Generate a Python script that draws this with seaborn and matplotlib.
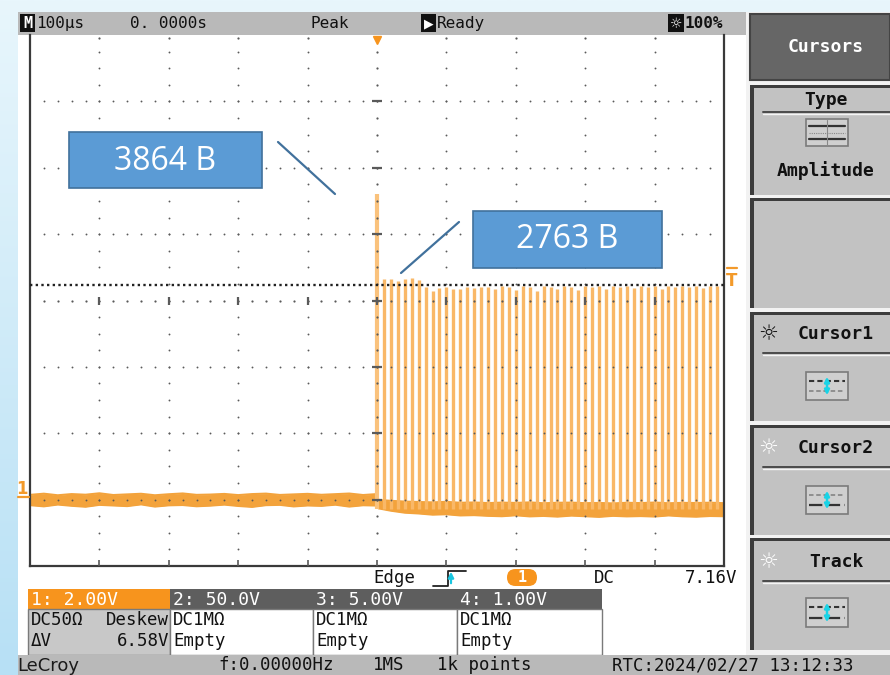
import numpy as np
import pandas as pd
import matplotlib
matplotlib.use("Agg")
import matplotlib.pyplot as plt
from matplotlib.patches import Rectangle, FancyBboxPatch
from matplotlib.colors import LinearSegmentedColormap
import seaborn as sns

sns.set_theme(style="white")
plt.rcParams["font.family"] = ["DejaVu Sans Mono", "DejaVu Sans"]

# ---- acquisition settings -------------------------------------------------
TIME_PER_DIV_US = 100          # horizontal scale
VOLTS_PER_DIV_SCOPE = 2.00     # channel 1 scale at the scope input
DELTA_V_SCOPE = 6.58           # cursor delta read by the scope
PULSE_LEVEL_V = 2763           # pulse level after the divider
PEAK_V = 3864                  # first (overshoot) pulse
PROBE_RATIO = PULSE_LEVEL_V / DELTA_V_SCOPE
VDIV = VOLTS_PER_DIV_SCOPE * PROBE_RATIO   # volts per screen division
CURSOR1_V = 2715

# ---- pulse train (time in µs, peak in V) ----------------------------------
pulse_t_us = [0, 10, 20, 30, 40, 50, 60, 70, 80, 90,
              100, 110, 120, 130, 140, 150, 160, 170, 180, 190,
              200, 210, 220, 230, 240, 250, 260, 270, 280, 290,
              300, 310, 320, 330, 340, 350, 360, 370, 380, 390,
              400, 410, 420, 430, 440, 450, 460, 470, 480, 490]
pulse_peak_v = [3864, 2790, 2790, 2770, 2790, 2800, 2780, 2690, 2640, 2680,
                2690, 2670, 2670, 2690, 2680, 2690, 2690, 2670, 2700, 2690,
                2650, 2700, 2690, 2640, 2700, 2690, 2660, 2700, 2690, 2650,
                2700, 2690, 2700, 2660, 2700, 2690, 2700, 2680, 2700, 2690,
                2700, 2660, 2700, 2690, 2700, 2690, 2700, 2680, 2700, 2700]

# ---- baseline noise envelope ----------------------------------------------
env_t_us = [-500, -480, -460, -440, -420, -400, -380, -360, -340, -320,
            -300, -280, -260, -240, -220, -200, -180, -160, -140, -120,
            -100, -80, -60, -40, -20, 0,
            2, 20, 40, 60, 80, 100, 120, 140, 160, 180,
            200, 220, 240, 260, 280, 300, 320, 340, 360, 380,
            400, 420, 440, 460, 480, 500]
env_upper_v = [60, 75, 55, 70, 62, 80, 58, 66, 74, 55,
               68, 78, 60, 64, 72, 57, 70, 76, 59, 66,
               73, 61, 69, 77, 58, 70,
               -5, -15, -25, -30, -35, -28, -40, -36, -44, -38,
               -42, -35, -46, -40, -38, -45, -42, -48, -40, -44,
               -37, -46, -41, -43, -39, -45]
env_lower_v = [-70, -85, -62, -78, -90, -66, -74, -82, -60, -88,
               -72, -68, -84, -76, -63, -80, -92, -70, -66, -86,
               -74, -79, -64, -88, -71, -75,
               -110, -140, -165, -175, -190, -185, -200, -196, -205, -210,
               -198, -212, -206, -215, -202, -210, -218, -205, -212, -208,
               -214, -200, -211, -216, -207, -210]

W, H = 890, 675
fig = plt.figure(figsize=(W / 100, H / 100), dpi=100)

# ---- backdrop and instrument frame (pixel coordinates) --------------------
bg = fig.add_axes([0, 0, 1, 1], label="frame", zorder=0)
bg.set_xlim(0, W)
bg.set_ylim(H, 0)
bg.axis("off")

grad = np.linspace(0, 1, 256).reshape(-1, 1)
bluecm = LinearSegmentedColormap.from_list("bk", ["#e8f6fc", "#b7e0f5"])
bg.imshow(grad, cmap=bluecm, extent=[0, W, H, 0], aspect="auto", zorder=0)


def rect(a, x0, y0, x1, y1, fc, ec="none", lw=0, z=1):
    a.add_patch(Rectangle((x0, y0), x1 - x0, y1 - y0, facecolor=fc,
                          edgecolor=ec, linewidth=lw, zorder=z))


MONO = "DejaVu Sans Mono"


def txt(a, x, y, s, size=11.5, color="#111111", ha="left", va="center",
        weight="normal", family=MONO, z=5):
    a.text(x, y, s, fontsize=size, color=color, ha=ha, va=va,
           fontweight=weight, family=family, zorder=z)


# screen area
rect(bg, 18, 12, 746, 656, "white")
rect(bg, 746, 12, W, 656, "#f2f2f2")
# top status bar
rect(bg, 18, 12, 746, 35, "#b9b9b9", z=2)
rect(bg, 20, 14, 35, 32, "#111111", z=3)
txt(bg, 27.5, 23.5, "M", size=11, color="white", ha="center", weight="bold")
txt(bg, 36, 23.5, "100µs")
txt(bg, 130, 23.5, "0. 0000s")
txt(bg, 310, 23.5, "Peak")
rect(bg, 421, 14, 436, 32, "#111111", z=3)
txt(bg, 428.5, 23.5, "▶", size=9, color="white", ha="center", family="DejaVu Sans")
txt(bg, 437, 23.5, "Ready")
rect(bg, 668, 14, 684, 32, "#111111", z=3)
txt(bg, 676, 23.5, "☼", size=10, color="white", ha="center", family="DejaVu Sans")
txt(bg, 685, 23.5, "100%", weight="bold")

# right-hand soft-key column
rect(bg, 750, 14, W, 80, "#666666", ec="#444444", lw=1.5, z=2)
txt(bg, 826, 47, "Cursors", size=13, color="white", ha="center", weight="bold")

panels = [(85, 195), (198, 308), (312, 421), (425, 535), (538, 650)]
for (y0, y1) in panels:
    rect(bg, 750, y0, W, y1, "#c2c2c2", z=2)
    rect(bg, 750, y0, 754, y1, "#3c3c3c", z=3)
    rect(bg, 750, y0, W, y0 + 2.5, "#3c3c3c", z=3)


def separator(y):
    bg.plot([763, W], [y, y], color="#4a4a4a", lw=1.4, zorder=4)
    bg.plot([763, W], [y + 1.6, y + 1.6], color="#f4f4f4", lw=1.0, zorder=4)


def icon_box(y0, y1):
    rect(bg, 806, y0, 848, y1, "#cfcfcf", ec="#7a7a7a", lw=1.2, z=4)


txt(bg, 826, 100, "Type", size=13, ha="center", weight="bold")
separator(112)
icon_box(119, 146)
bg.plot([809, 845], [126, 126], color="#333333", lw=1.6, zorder=5)
bg.plot([809, 845], [139, 139], color="#333333", lw=1.6, zorder=5)
bg.plot([809, 845], [132.5, 132.5], color="#888888", lw=0.8, ls=(0, (1, 1)), zorder=5)
bg.plot([827, 827], [120, 145], color="#888888", lw=0.8, zorder=5)
txt(bg, 826, 171, "Amplitude", size=13, ha="center", weight="bold")


def cursor_panel(ytitle, label, gear_color, y0, y1, top_style, bot_style):
    txt(bg, 768, ytitle, "☼", size=16, color=gear_color, ha="center", family="DejaVu Sans")
    txt(bg, 836, ytitle, label, size=13, ha="center", weight="bold")
    separator(ytitle + 19)
    icon_box(y0, y1)
    h = y1 - y0
    bg.plot([809, 845], [y0 + h * 0.32] * 2, zorder=5, **top_style)
    bg.plot([809, 845], [y0 + h * 0.68] * 2, zorder=5, **bot_style)
    bg.annotate("", xy=(827, y0 + 2), xytext=(827, y1 - 2),
                arrowprops=dict(arrowstyle="<|-|>", color="#19d3e6", lw=1.8,
                                mutation_scale=7), zorder=6)


dark_dash = dict(color="#333333", lw=1.5, ls=(0, (2.5, 1.5)))
gray_dash = dict(color="#8a8a8a", lw=1.3, ls=(0, (2.5, 1.5)))
dark_long = dict(color="#333333", lw=1.6, ls=(0, (6, 2)))
cursor_panel(334, "Cursor1", "#111111", 372, 400, dark_dash, gray_dash)
cursor_panel(448, "Cursor2", "white", 486, 514, gray_dash, dark_long)
cursor_panel(562, "Track", "white", 598, 627, dark_dash, dark_long)

# trigger / channel line under the graticule
txt(bg, 394, 578, "Edge", size=12.5, ha="center")
bg.plot([433, 448, 448, 466], [586, 586, 571, 571], color="#222222", lw=1.3, zorder=5)
bg.annotate("", xy=(451, 569), xytext=(451, 586),
            arrowprops=dict(arrowstyle="-|>", color="#19c6e0", lw=1.6,
                            mutation_scale=8), zorder=6)
bg.add_patch(FancyBboxPatch((507, 569), 30, 17, boxstyle="round,pad=0,rounding_size=8.5",
                            facecolor="#f7941d", edgecolor="none", zorder=5))
txt(bg, 522, 577.5, "1", size=11, color="white", ha="center", weight="bold", z=6)
txt(bg, 604, 578, "DC", size=12.5, ha="center")
txt(bg, 737, 578, "7.16V", size=12.5, ha="right")

# channel table
cols = [28, 170, 313, 457, 602]
heads = ["1: 2.00V", "2: 50.0V", "3: 5.00V", "4: 1.00V"]
row1 = [("DC50Ω", "Deskew"), ("DC1MΩ", ""), ("DC1MΩ", ""), ("DC1MΩ", "")]
row2 = [("ΔV", "6.58V"), ("Empty", ""), ("Empty", ""), ("Empty", "")]
for i in range(4):
    x0, x1 = cols[i], cols[i + 1]
    head_fc = "#f7941d" if i == 0 else "#5e5e5e"
    body_fc = "#c8c8c8" if i == 0 else "white"
    rect(bg, x0, 589, x1, 609, head_fc, z=2)
    rect(bg, x0, 609, x1, 655, body_fc, ec="#7a7a7a", lw=1.0, z=2)
    txt(bg, x0 + 3, 600, heads[i], size=13, color="white", z=5)
    txt(bg, x0 + 3, 620, row1[i][0], size=12.5)
    txt(bg, x0 + 3, 641, row2[i][0], size=12.5)
    if row1[i][1]:
        txt(bg, x1 - 1, 620, row1[i][1], size=12.5, ha="right")
    if row2[i][1]:
        txt(bg, x1 - 1, 641, row2[i][1], size=12.5, ha="right")

# bottom status bar
rect(bg, 18, 655, W, H, "#b9b9b9", z=2)
txt(bg, 17, 666, "LeCroy", size=13, color="#1a1a1a", family="DejaVu Sans", z=5)
txt(bg, 218, 665, "f:0.00000Hz", size=12.5)
txt(bg, 373, 665, "1MS", size=12.5)
txt(bg, 437, 665, "1k points", size=12.5)
txt(bg, 612, 665, "RTC:2024/02/27 13:12:33", size=12.5)

# ---- graticule and waveform ------------------------------------------------
ax = fig.add_axes([30 / W, 1 - 566 / H, 694 / W, 531 / H], zorder=1)
ax.set_facecolor("white")
half = 5 * TIME_PER_DIV_US
ax.set_xlim(-half, half)
ax.set_ylim(-VDIV, 7 * VDIV)
ax.set_xticks([])
ax.set_yticks([])
for side in ["left", "right", "bottom"]:
    ax.spines[side].set_color("#3a3a3a")
    ax.spines[side].set_linewidth(1.6)
ax.spines["top"].set_visible(False)

ORANGE = "#f3a33c"
SPIKE = "#f9b868"

env = pd.DataFrame({"t": env_t_us, "upper": env_upper_v, "lower": env_lower_v})
ax.fill_between(env["t"], env["lower"], env["upper"], color=ORANGE, lw=0, zorder=2)
sns.lineplot(data=env, x="t", y="upper", color=ORANGE, lw=1.5, ax=ax, zorder=2)
sns.lineplot(data=env, x="t", y="lower", color=ORANGE, lw=1.5, ax=ax, zorder=2)

pulses = pd.DataFrame({"t": pulse_t_us, "peak": pulse_peak_v})
ax.vlines(pulses["t"][1:], -120, pulses["peak"][1:], color=SPIKE, lw=2.4, zorder=3)
ax.vlines(pulses["t"][:1], -120, pulses["peak"][:1], color="#fac27c", lw=3.0, zorder=3)

# dotted graticule
xmaj = np.arange(-half, half + 1, TIME_PER_DIV_US)
xmin = np.arange(-half, half + 1, TIME_PER_DIV_US / 5)
ymaj = np.arange(0, 7) * VDIV
ymin = np.arange(-4, 29) * VDIV / 4
dot = dict(ls="none", color="#5a5a5a", zorder=5, clip_on=False)
for k, yv in enumerate(ymaj):
    if k == 3:
        continue
    ax.plot(xmin[1:-1], np.full(len(xmin) - 2, yv), marker="o", ms=1.35, mew=0, **dot)
for xv in xmaj[1:-1]:
    if xv == 0:
        continue
    ax.plot(np.full(len(ymin) - 2, xv), ymin[1:-1], marker="o", ms=1.35, mew=0, **dot)
# centre cross with tick marks
yc = 3 * VDIV
ax.plot(xmin[1:-1], np.full(len(xmin) - 2, yc), marker="o", ms=1.6, mew=0, **dot)
ax.plot(xmaj[1:-1], np.full(len(xmaj) - 2, yc), marker="|", ms=6, mew=1.6, **dot)
ax.plot(np.zeros(len(ymin) - 2), ymin[1:-1], marker="o", ms=1.6, mew=0, **dot)
ax.plot(np.zeros(len(ymaj)), ymaj, marker="_", ms=7, mew=1.6, **dot)
ax.plot(xmaj[1:-1], np.full(len(xmaj) - 2, 7 * VDIV - VDIV / 25), marker="o", ms=1.6, mew=0, **dot)
ax.plot(xmaj[1:-1], np.full(len(xmaj) - 2, -VDIV + VDIV / 25), marker="|", ms=4, mew=1.2, **dot)

# amplitude cursor
ax.axhline(CURSOR1_V, color="#222222", lw=1.7, ls=(0, (1.0, 1.4)), zorder=6)
# trigger position marker
ax.plot([0], [7 * VDIV - VDIV * 0.07], marker="v", ms=6, color="#f7941d",
        ls="none", zorder=7, clip_on=False)

# ---- overlay: channel marks and callouts ------------------------------------
fg = fig.add_axes([0, 0, 1, 1], label="overlay", zorder=2)
fg.set_xlim(0, W)
fg.set_ylim(H, 0)
fg.axis("off")
fg.patch.set_alpha(0)

# channel 1 ground mark and trigger level mark
txt(fg, 22, 489, "1", size=12, color="#f39a2a", ha="center", weight="bold",
    family="DejaVu Sans")
fg.plot([18, 29], [497, 497], color="#f39a2a", lw=1.6)
txt(fg, 732, 281, "T", size=12, color="#f39a2a", ha="center", weight="bold",
    family="DejaVu Sans")
fg.plot([727, 737], [268, 268], color="#f39a2a", lw=1.6)

BOX_FC = "#5b9bd5"
BOX_EC = "#41719c"
rect(fg, 69, 132, 262, 188, BOX_FC, ec=BOX_EC, lw=1.2, z=3)
rect(fg, 473, 211, 662, 268, BOX_FC, ec=BOX_EC, lw=1.2, z=3)
callout_font = ["Open Sans", "DejaVu Sans"]
fg.text(165.5, 161, f"{PEAK_V} В", fontsize=23, color="white", ha="center",
        va="center", family=callout_font, zorder=4)
fg.text(567.5, 240, f"{PULSE_LEVEL_V} В", fontsize=23, color="white", ha="center",
        va="center", family=callout_font, zorder=4)
fg.plot([278, 335], [142, 194], color=BOX_EC, lw=1.6, zorder=3)
fg.plot([401, 459], [273, 222], color=BOX_EC, lw=1.6, zorder=3)

fig.savefig("out.png", dpi=100)
